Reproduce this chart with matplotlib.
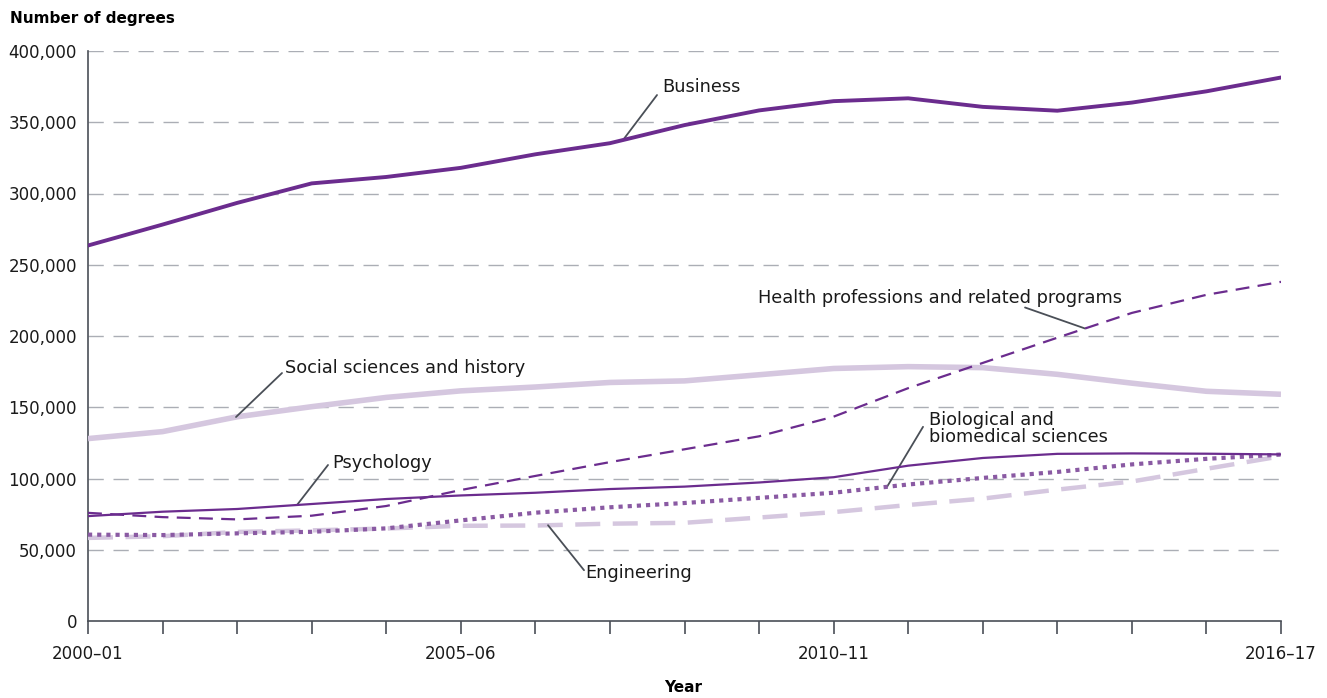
import matplotlib
matplotlib.use("Agg")
import matplotlib.pyplot as plt
import numpy as np
from matplotlib.ticker import FuncFormatter

plt.rcParams["font.family"] = ["DejaVu Sans"]
plt.rcParams["lines.scale_dashes"] = False

years = ["2000–01", "2001–02", "2002–03", "2003–04", "2004–05", "2005–06",
         "2006–07", "2007–08", "2008–09", "2009–10", "2010–11", "2011–12",
         "2012–13", "2013–14", "2014–15", "2015–16", "2016–17"]
shown_years = ["2000–01", "2005–06", "2010–11", "2016–17"]

business = [263500, 278200, 293400, 307100, 311600, 318000, 327500, 335300, 348000,
            358300, 364800, 366800, 360800, 358100, 363800, 371700, 381400]
social = [128000, 132900, 143300, 150400, 156900, 161500, 164200, 167400, 168500,
          172800, 177200, 178500, 177800, 173100, 166900, 161200, 159100]
health = [75900, 72900, 71300, 73900, 80700, 91900, 101800, 111500, 120500,
          129600, 143400, 163400, 181100, 198800, 216200, 228900, 238000]
psychology = [73600, 76700, 78600, 82100, 85600, 88100, 90000, 92600, 94300,
              97200, 100900, 109000, 114400, 117300, 117600, 117400, 116900]
biology = [60600, 60300, 61500, 62600, 65000, 70600, 76000, 79800, 82800,
           86400, 90000, 95800, 100400, 104600, 109900, 113800, 116800]
engineering = [58300, 59500, 62500, 63600, 64900, 66800, 67000, 68300, 68900,
               72600, 76400, 81400, 85900, 92200, 97900, 106800, 115600]

DARK = "#6b2c8e"
LIGHT = "#d5c7df"
MID = "#8a5aa3"
INK = "#4a4f57"

fig = plt.figure(figsize=(13.27, 6.98), dpi=100)
ax = fig.add_axes([88 / 1327, 77 / 698, 1193 / 1327, 570 / 698])
x = np.arange(len(years))

ax.plot(x, social, color=LIGHT, lw=4.0, solid_capstyle="butt", zorder=3)
ax.plot(x, engineering, color=LIGHT, lw=3.2, dashes=(18, 9), dash_capstyle="butt", zorder=3)
ax.plot(x, biology, color=MID, lw=3.0, dashes=(3, 3.6), dash_capstyle="butt", zorder=4)
ax.plot(x, health, color=DARK, lw=1.6, dashes=(10, 6), dash_capstyle="butt", zorder=4)
ax.plot(x, psychology, color=DARK, lw=1.6, zorder=5)
ax.plot(x, business, color=DARK, lw=2.8, zorder=5)

ax.set_xlim(0, len(years) - 1)
ax.set_ylim(0, 400000)
ax.set_yticks(np.arange(0, 400001, 50000))
ax.yaxis.set_major_formatter(FuncFormatter(lambda v, p: f"{int(v):,}"))
ax.tick_params(axis="y", length=0, pad=8, labelsize=12, labelcolor="#1a1a1a")
ax.set_xticks(x)
ax.set_xticklabels([y if y in shown_years else "" for y in years])
ax.tick_params(axis="x", length=9, width=1.2, color=INK, pad=8, labelsize=12,
               labelcolor="#1a1a1a")

for v in np.arange(50000, 400001, 50000):
    ax.axhline(v, color="#abaeb5", lw=1.0, dashes=(11, 7), zorder=1)

for s in ("top", "right"):
    ax.spines[s].set_visible(False)
for s in ("left", "bottom"):
    ax.spines[s].set_color(INK)
    ax.spines[s].set_linewidth(1.2)

fig.text(10 / 1327, 1 - 18 / 698, "Number of degrees", fontsize=11, fontweight="bold",
         ha="left", va="center")
fig.text(683 / 1327, 1 - 687 / 698, "Year", fontsize=11, fontweight="bold",
         ha="center", va="center")


def label(series, xi, text, line_end, text_pos, ha="left"):
    yi = np.interp(xi, x, series)
    ax.annotate("", xy=(xi, yi), xytext=line_end, textcoords="offset pixels",
                arrowprops=dict(arrowstyle="-", color=INK, lw=1.3, shrinkA=0, shrinkB=0))
    ax.annotate(text, xy=(xi, yi), xytext=text_pos, textcoords="offset pixels",
                ha=ha, va="center", fontsize=12.8, color="#1a1a1a", linespacing=0.95)


label(business, (623 - 88) / 74.56, "Business", (34, 45), (39, 53))
label(social, (236 - 88) / 74.56, "Social sciences and history", (46, 44), (49, 49))
label(psychology, (297 - 88) / 74.56, "Psychology", (31, 40), (35, 42))
label(biology, (887 - 88) / 74.56, "Biological and\nbiomedical sciences", (36, 60), (42, 58))
label(health, (1085 - 88) / 74.56, "Health professions and related programs", (-60, 21), (-327, 30))
label(engineering, (548 - 88) / 74.56, "Engineering", (36, -45), (37, -48))

fig.savefig("out.png", dpi=100)
